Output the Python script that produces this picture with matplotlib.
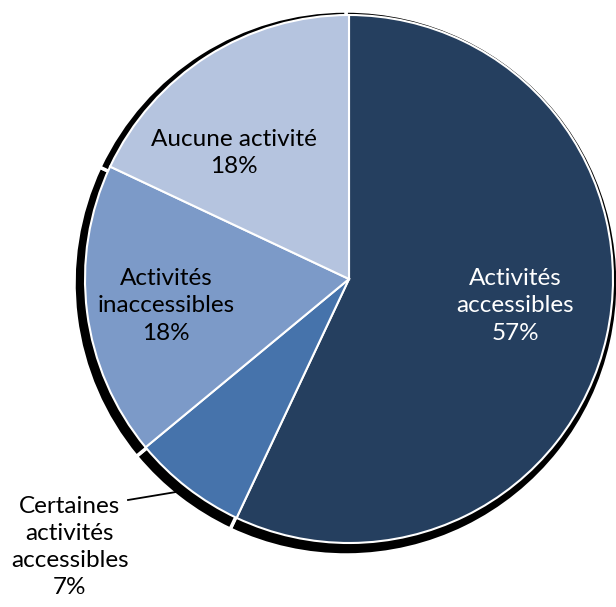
import matplotlib.pyplot as plt

# parts of the pie, clockwise from the top
categories = ["Activités\naccessibles", "Certaines\nactivités\naccessibles",
              "Activités\ninaccessibles", "Aucune activité"]
shares = [57, 7, 18, 18]

colors = ["#253f5f", "#4673ab", "#7c9ac8", "#b5c4df"]
text_colors = ["white", "black", "black", "black"]

plt.rcParams['font.family'] = ['Lato', 'DejaVu Sans']

fig = plt.figure(figsize=(6.16, 6.07), dpi=100)
ax = fig.add_axes([0, 0, 1, 1])

cx, cy, r = 349, 328, 264

# black drop shadow, a bit larger and shifted down-left
ax.pie(shares, startangle=90, counterclock=False, radius=r + 8,
       center=(cx - 3, cy - 4), colors=['black'] * len(shares),
       wedgeprops=dict(edgecolor='white', linewidth=2.5), frame=True)

wedges, _ = ax.pie(shares, startangle=90, counterclock=False, radius=r,
                   center=(cx, cy), colors=colors,
                   wedgeprops=dict(edgecolor='white', linewidth=1.5),
                   frame=True)
ax.set_xlim(0, 616)
ax.set_ylim(0, 607)
ax.set_aspect('equal')
ax.axis('off')

# label spots (pixels from the top left)
label_pos = [(515, 306), (70, 547), (166, 306), (234, 153)]
for name, val, (px, py), tc in zip(categories, shares, label_pos, text_colors):
    ax.text(px, 607 - py, f"{name}\n{val}%", ha='center', va='center',
            fontsize=17.5, color=tc, linespacing=1.36)

# leader line for the small slice
ax.plot([128, 176], [607 - 500, 607 - 492], color='black', lw=1.3)

fig.savefig("out.png", dpi=100)
